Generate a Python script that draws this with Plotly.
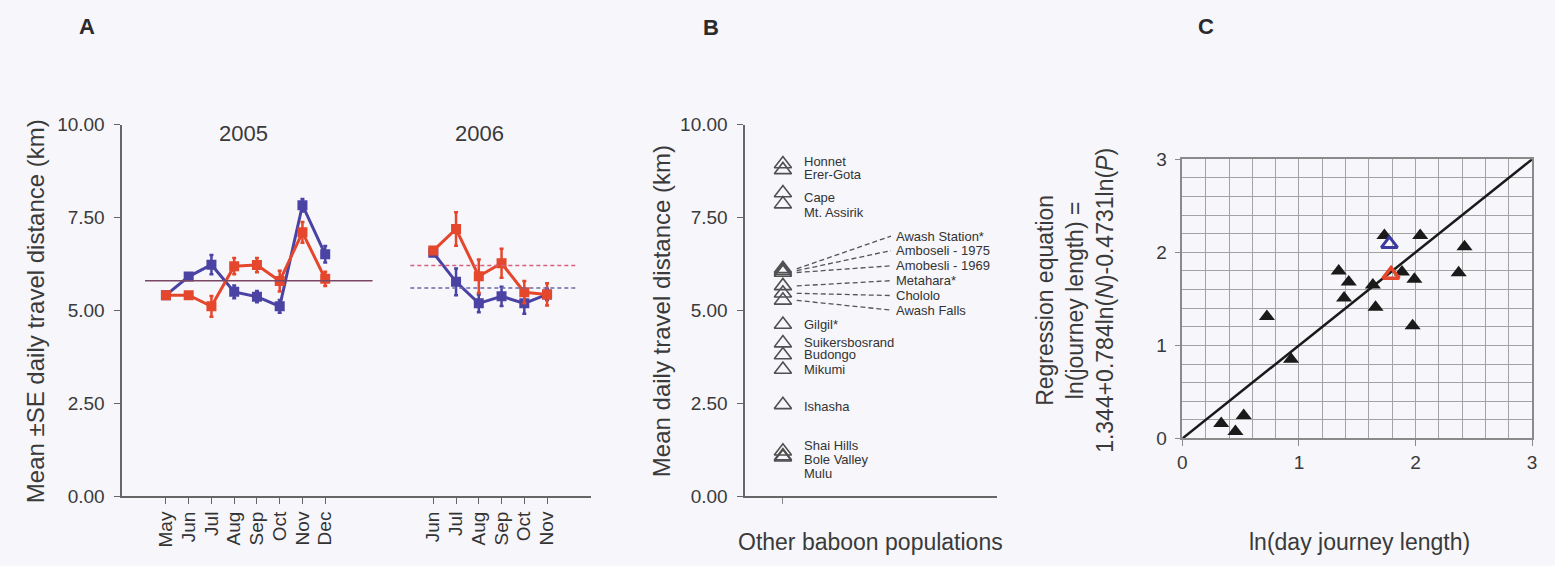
import plotly.graph_objects as go

W, H = 1555, 566
FONT = "Liberation Sans, Arial, sans-serif"
TXT = "#3a3a3a"
BLUE = "#4a43a3"
RED = "#e4472b"
BG = "#f6f6fb"

# ---- Panel A: monthly mean daily travel distance (km) ----
months_2005 = ["May", "Jun", "Jul", "Aug", "Sep", "Oct", "Nov", "Dec"]
months_2006 = ["Jun", "Jul", "Aug", "Sep", "Oct", "Nov"]

blue_2005 = [5.41, 5.91, 6.23, 5.50, 5.37, 5.11, 7.83, 6.51]
blue_2005_se = [0.05, 0.08, 0.26, 0.17, 0.15, 0.17, 0.17, 0.22]
red_2005 = [5.41, 5.41, 5.11, 6.19, 6.22, 5.79, 7.10, 5.85]
red_2005_se = [0.05, 0.06, 0.28, 0.22, 0.19, 0.28, 0.28, 0.19]

blue_2006 = [6.55, 5.77, 5.19, 5.38, 5.19, 5.43]
blue_2006_se = [0.08, 0.36, 0.24, 0.26, 0.28, 0.15]
red_2006 = [6.61, 7.19, 5.92, 6.27, 5.49, 5.43]
red_2006_se = [0.08, 0.45, 0.45, 0.39, 0.30, 0.30]

mean_2005 = 5.80
mean_2006_red = 6.21
mean_2006_blue = 5.60

# ---- Panel B: other baboon populations ----
populations = ["Honnet", "Erer-Gota", "Cape", "Mt. Assirik", "Awash Station*",
               "Amboseli - 1975", "Amobesli - 1969", "Metahara*", "Chololo",
               "Awash Falls", "Gilgil*", "Suikersbosrand", "Budongo", "Mikumi",
               "Ishasha", "Shai Hills", "Bole Valley", "Mulu"]
population_km = [8.94, 8.78, 8.16, 7.86, 6.12, 6.07, 6.02, 5.66, 5.46,
                 5.27, 4.62, 4.12, 3.80, 3.41, 2.46, 1.21, 1.08, 1.05]

# ---- Panel C: observed vs predicted ln(day journey length) ----
ln_day_journey = [0.333, 0.455, 0.526, 0.725, 0.932, 1.341, 1.427, 1.387, 1.634,
                  1.657, 1.733, 1.884, 1.990, 1.975, 2.040, 2.420, 2.370]
ln_predicted = [0.162, 0.076, 0.248, 1.310, 0.851, 1.800, 1.680, 1.510, 1.650,
                1.410, 2.180, 1.790, 1.710, 1.210, 2.180, 2.060, 1.780]
blue_point = ([1.776], [2.09])
red_point = ([1.790], [1.76])
fit_intercept, fit_slope = 0.0, 1.0
fit_x = [0.0, 3.0]


def px(x):
    return x / W


def py(y):
    return 1 - y / H


# month slots along panel A's x axis (one slot per month, gap between years)
gap_2006 = 11.75
x_2005 = list(range(len(months_2005)))
x_2006 = [gap_2006 + i for i in range(len(months_2006))]

fig = go.Figure()


def series(x, y, se, color, xa, ya):
    fig.add_trace(go.Scatter(
        x=x, y=y, mode="lines+markers", xaxis=xa, yaxis=ya,
        line=dict(color=color, width=3),
        marker=dict(symbol="square", size=10, color=color),
        error_y=dict(type="data", array=se, color=color, thickness=2.5, width=2),
        showlegend=False, hoverinfo="skip"))


series(x_2005, blue_2005, blue_2005_se, BLUE, "x", "y")
series(x_2005, red_2005, red_2005_se, RED, "x", "y")
series(x_2006, blue_2006, blue_2006_se, BLUE, "x", "y")
series(x_2006, red_2006, red_2006_se, RED, "x", "y")

# reference lines of annual means
fig.add_trace(go.Scatter(x=[-0.92, 9.08], y=[mean_2005] * 2, mode="lines",
                         line=dict(color="#7a4665", width=1.5),
                         showlegend=False, hoverinfo="skip"))
fig.add_trace(go.Scatter(x=[10.74, 18.12], y=[mean_2006_red] * 2, mode="lines",
                         line=dict(color="#d9607a", width=1.5, dash="4px,3px"),
                         showlegend=False, hoverinfo="skip"))
fig.add_trace(go.Scatter(x=[10.74, 18.12], y=[mean_2006_blue] * 2, mode="lines",
                         line=dict(color="#6a6aa8", width=1.5, dash="4px,3px"),
                         showlegend=False, hoverinfo="skip"))

# Panel B triangles
POP_X = 0.15
fig.add_trace(go.Scatter(
    x=[POP_X] * len(population_km), y=population_km, mode="markers",
    xaxis="x2", yaxis="y2",
    marker=dict(symbol="triangle-up-open", size=15, color="#505050",
                line=dict(width=1.6, color="#505050")),
    showlegend=False, hoverinfo="skip"))

# label placement for panel B (y in km units, leader lines for the crowded group)
label_y = [9.02, 8.65, 8.03, 7.64, 7.00, 6.61, 6.20, 5.80, 5.40, 5.01,
           4.61, 4.15, 3.81, 3.42, 2.41, 1.37, 0.98, 0.60]
leader = {"Awash Station*", "Amboseli - 1975", "Amobesli - 1969",
          "Metahara*", "Chololo", "Awash Falls"}
annotations = []
shapes = []
for name, val, ly in zip(populations, population_km, label_y):
    if name in leader:
        shapes.append(dict(type="line", xref="x2", yref="y2",
                           x0=0.205, y0=val, x1=0.58, y1=ly,
                           line=dict(color="#555555", width=1.3, dash="5px,3px")))
        lx = 0.59
    else:
        lx = 0.225
    annotations.append(dict(x=lx, y=ly, xref="x2", yref="y2", text=name,
                            showarrow=False, xanchor="left", yanchor="middle",
                            font=dict(family=FONT, size=13, color="#333333")))

# Panel C scatter + regression line
fig.add_trace(go.Scatter(
    x=fit_x, y=[fit_intercept + fit_slope * v for v in fit_x], mode="lines",
    xaxis="x3", yaxis="y3", line=dict(color="#1a1a1a", width=2.5),
    showlegend=False, hoverinfo="skip"))
fig.add_trace(go.Scatter(
    x=ln_day_journey, y=ln_predicted, mode="markers", xaxis="x3", yaxis="y3",
    marker=dict(symbol="triangle-up", size=14, color="#1a1a1a"),
    showlegend=False, hoverinfo="skip"))
fig.add_trace(go.Scatter(
    x=blue_point[0], y=blue_point[1], mode="markers", xaxis="x3", yaxis="y3",
    marker=dict(symbol="triangle-up-open", size=14, color="#3a3aa0",
                line=dict(width=3, color="#3a3aa0")),
    showlegend=False, hoverinfo="skip"))
fig.add_trace(go.Scatter(
    x=red_point[0], y=red_point[1], mode="markers", xaxis="x3", yaxis="y3",
    marker=dict(symbol="triangle-up-open", size=14, color=RED,
                line=dict(width=3.5, color=RED)),
    showlegend=False, hoverinfo="skip"))

tickfont = dict(family=FONT, size=19, color=TXT)
yA = dict(range=[0, 10], tickvals=[0, 2.5, 5, 7.5, 10],
          ticktext=["0.00", "2.50", "5.00", "7.50", "10.00"],
          showgrid=False, zeroline=False, showline=True, linecolor="#666666",
          linewidth=1.5, ticks="outside", ticklen=6, tickcolor="#666666",
          tickfont=tickfont, ticklabelstandoff=6)

fig.update_layout(
    width=W, height=H, margin=dict(l=0, r=0, t=0, b=0),
    paper_bgcolor=BG, plot_bgcolor=BG,
    xaxis=dict(domain=[px(118), px(590)], range=[-1.92, 18.69],
               tickvals=x_2005 + x_2006, ticktext=months_2005 + months_2006,
               tickangle=-90, showgrid=False, zeroline=False, showline=True,
               linecolor="#666666", linewidth=1.5, ticks="outside", ticklen=6,
               tickcolor="#666666",
               tickfont=dict(family=FONT, size=19, color="#333333")),
    yaxis=dict(domain=[py(505), py(119)], anchor="x", **yA),
    xaxis2=dict(domain=[px(745), px(998)], range=[0, 1], anchor="y2",
                tickvals=[POP_X], ticktext=[""], showgrid=False, zeroline=False,
                showline=True, linecolor="#666666", linewidth=1.5,
                ticks="outside", ticklen=6, tickcolor="#888888"),
    yaxis2=dict(domain=[py(505), py(119)], anchor="x2", **yA),
    xaxis3=dict(domain=[px(1185), px(1537)], range=[0, 3], anchor="y3",
                dtick=1, showgrid=True, gridcolor="#a3a3a3", gridwidth=1.2,
                minor=dict(dtick=0.2, showgrid=True, gridcolor="#a3a3a3",
                           gridwidth=1.2),
                zeroline=False, showline=True, mirror=True, linecolor="#8a8a8a",
                linewidth=1.5, ticks="outside", ticklen=6, tickcolor="#8a8a8a",
                tickfont=tickfont),
    yaxis3=dict(domain=[py(445), py(155)], range=[0, 3], anchor="x3",
                dtick=1, showgrid=True, gridcolor="#a3a3a3", gridwidth=1.2,
                minor=dict(dtick=0.2, showgrid=True, gridcolor="#a3a3a3",
                           gridwidth=1.2),
                zeroline=False, showline=True, mirror=True, linecolor="#8a8a8a",
                linewidth=1.5, ticks="outside", ticklen=6, tickcolor="#8a8a8a",
                tickfont=tickfont, ticklabelstandoff=4),
    shapes=shapes,
)


def paper_text(x, y, text, size, angle=0, bold=False, anchor="center"):
    annotations.append(dict(
        x=px(x), y=py(y), xref="paper", yref="paper", text=text,
        showarrow=False, textangle=angle, xanchor=anchor, yanchor="middle",
        font=dict(family=FONT, size=size, color=TXT if not bold else "#2a2a2a")))


paper_text(83, 17, "<b>A</b>", 22, bold=True)
paper_text(711, 18, "<b>B</b>", 22, bold=True)
paper_text(1209, 17, "<b>C</b>", 22, bold=True)
paper_text(240, 128, "2005", 22)
paper_text(478, 128, "2006", 22)
paper_text(31, 313, "Mean ±SE daily travel distance (km)", 24, angle=-90)
paper_text(661, 313, "Mean daily travel distance (km)", 24, angle=-90)
paper_text(871, 552, "Other baboon populations", 23)
paper_text(1363, 552, "ln(day journey length)", 23)
paper_text(1077, 302,
           "Regression equation<br>ln(journey length) =<br>"
           "1.344+0.784ln(<i>N</i>)-0.4731ln(<i>P</i>)", 23, angle=-90)

fig.update_layout(annotations=annotations)
fig.write_html("out.html")
